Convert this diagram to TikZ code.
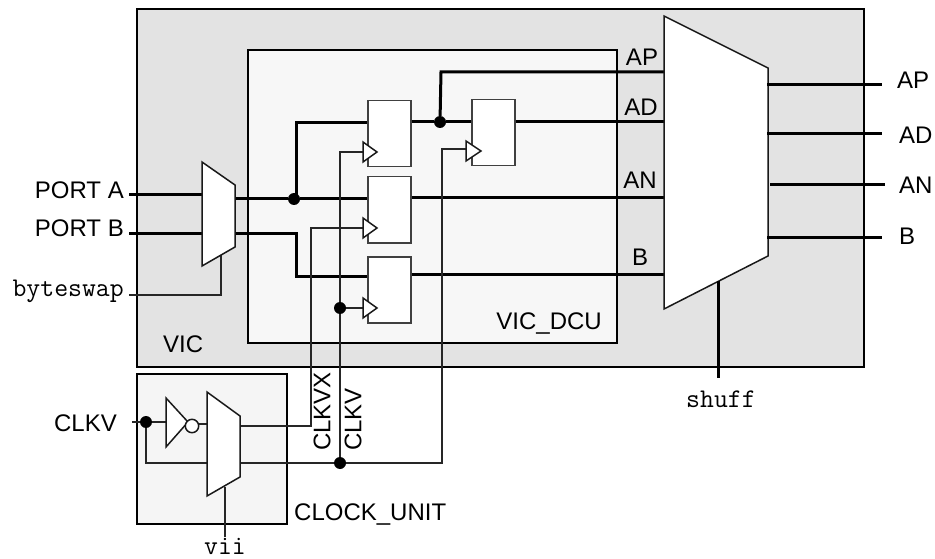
\documentclass[tikz,border=0pt]{standalone}
\usepackage{fontspec}
\setmainfont{Liberation Sans}
\usepackage{tikz}
\usetikzlibrary{calc}

\tikzset{
  wire/.style={line width=1.5pt, black!85},
  bus/.style={line width=3pt, black},
  muxbox/.style={line width=1.5pt, fill=white, draw=black!90},
  dot/.style={circle, fill=black, inner sep=0pt, minimum size=12pt},
  ffbox/.style={draw=black!75, line width=1.5pt, fill=white, minimum width=43pt, minimum height=66pt, inner sep=0pt},
  tag/.style={font=\fontsize{24}{28}\selectfont, inner sep=0pt},
  pin/.style={font=\ttfamily\fontsize{27}{31}\selectfont, inner sep=0pt},
}

\begin{document}
\begin{tikzpicture}[x=1pt, y=-1pt]
\useasboundingbox (0,0) rectangle (935,559);
% enclosing blocks
\draw[line width=1.5pt, fill=black!11] (137,9) rectangle (864,367);
\draw[line width=1.5pt, fill=black!3] (248,50) rectangle (617,343);
\draw[line width=1.5pt, fill=black!4] (137,374) rectangle (287,524);
\node[tag, anchor=west] (viclabel) at (163,344) {VIC};
\node[tag, anchor=east] (dculabel) at (602,324) {VIC\_DCU};
\node[tag, anchor=west] (clklabel) at (294,515) {CLOCK\_UNIT};
% input mux
\coordinate (inA) at (129,195);
\coordinate (inB) at (129,233);
\coordinate (swapin) at (129,295);
\coordinate (swapup) at (221,295);
\coordinate (swapend) at (221,254);
\node[tag, anchor=east] (porta) at (124,190) {PORT A};
\node[tag, anchor=east] (portb) at (124,228) {PORT B};
\node[pin, anchor=east] (swaplabel) at (124,291) {byteswap};
\draw[wire] (swapin) -- (swapup) -- (swapend);
\draw[bus] (inA) -- ++(75,0);
\draw[bus] (inB) -- ++(75,0);
% flops
\node[ffbox, anchor=north west] (ffa) at (367,100) {};
\node[ffbox, anchor=north west] (ffb) at (367,176) {};
\node[ffbox, anchor=north west] (ffc) at (367,256) {};
\node[ffbox, anchor=north west] (ffd) at (471,99) {};
% data lines
\node[dot] (splitA) at (294,199) {};
\node[dot] (splitB) at (440,122) {};
\coordinate (upA) at (296,123);
\coordinate (dnB) at (296,233);
\coordinate (dnC) at (296,276);
\coordinate (upB) at (441,72);
\draw[bus] (235,199) -- (splitA) -- (367,199);
\draw[bus] (splitA.center -| upA) -- (upA) -- (367,123);
\draw[bus] (235,233) -- (dnB) -- (dnC) -- (367,276);
\draw[bus] (ffa.east |- 0,122) -- (splitB) -- (ffd.west |- 0,122);
\draw[bus] (splitB) -- (upB) -- (664,72);
\draw[bus] (ffd.east |- 0,122) -- (664,122);
\draw[bus] (ffb.east |- 0,198) -- (664,198);
\draw[bus] (ffc.east |- 0,274) -- (664,274);
% clock lines
\node[dot] (clkdot) at (340,463) {};
\node[dot] (ffcdot) at (340,308) {};
\coordinate (vx) at (311,426);
\draw[wire] (367,152) -- (340,152) -- (ffcdot) -- (clkdot);
\draw[wire] (ffcdot) -- (365,308);
\draw[wire] (367,228) -- (311,228) -- (vx) -- (240,426);
\draw[wire] (240,463) -- (clkdot) -- (442,463) -- (442,149) -- (468,149);
% clock inputs
\foreach \y in {152,228,308}
  \draw[muxbox] (363,\y-10) -- (377,\y) -- (363,\y+10) -- cycle;
\draw[muxbox] (466,141) -- (481,151) -- (466,161) -- cycle;
% muxes
\draw[muxbox] (202,162) -- (235,185) -- (235,247) -- (202,266) -- cycle;
\draw[muxbox] (664,16) -- (768,68) -- (768,256) -- (664,309) -- cycle;
\node[tag] (lap) at (642,57) {AP};
\node[tag] (lad) at (641,107) {AD};
\node[tag] (lan) at (640,180) {AN};
\node[tag] (lb) at (640,257) {B};
% outputs
\draw[bus] (767,85) -- (882,85);
\draw[bus] (767,134) -- (882,134);
\draw[bus] (770,185) -- (885,185);
\draw[bus] (767,237) -- (882,237);
\node[tag, anchor=west] (rap) at (897,80) {AP};
\node[tag, anchor=west] (rad) at (899,135) {AD};
\node[tag, anchor=west] (ran) at (899,185) {AN};
\node[tag, anchor=west] (rb) at (899,236) {B};
\coordinate (shufftop) at (718,281);
\coordinate (shuffend) at (718,378);
\draw[bus] (shufftop) -- (shuffend);
\node[pin] (shufflabel) at (721,399) {shuff};
% clock unit
\node[tag, anchor=east] (clkv) at (117,423) {CLKV};
\node[dot] (clkin) at (146,422) {};
\draw[wire] (132,422) -- (clkin) -- (166,422);
\draw[wire] (clkin) -- (146,463) -- (207,463);
\draw[muxbox] (166,398) -- (188,422) -- (166,447) -- cycle;
\draw[wire] (192,424) -- (207,424);
\draw[muxbox] (192,426) circle (6.7);
\draw[muxbox] (207,392) -- (240,416) -- (240,477) -- (207,496) -- cycle;
\coordinate (viitop) at (225,487);
\coordinate (viiend) at (225,537);
\draw[wire] (viitop) -- (viiend);
\node[pin, anchor=base] (viilabel) at (225,554) {vii};
\node[tag, rotate=90, anchor=west] (lclkvx) at (322,451) {CLKVX};
\node[tag, rotate=90, anchor=west] (lclkv) at (353,451) {CLKV};
\end{tikzpicture}
\end{document}
